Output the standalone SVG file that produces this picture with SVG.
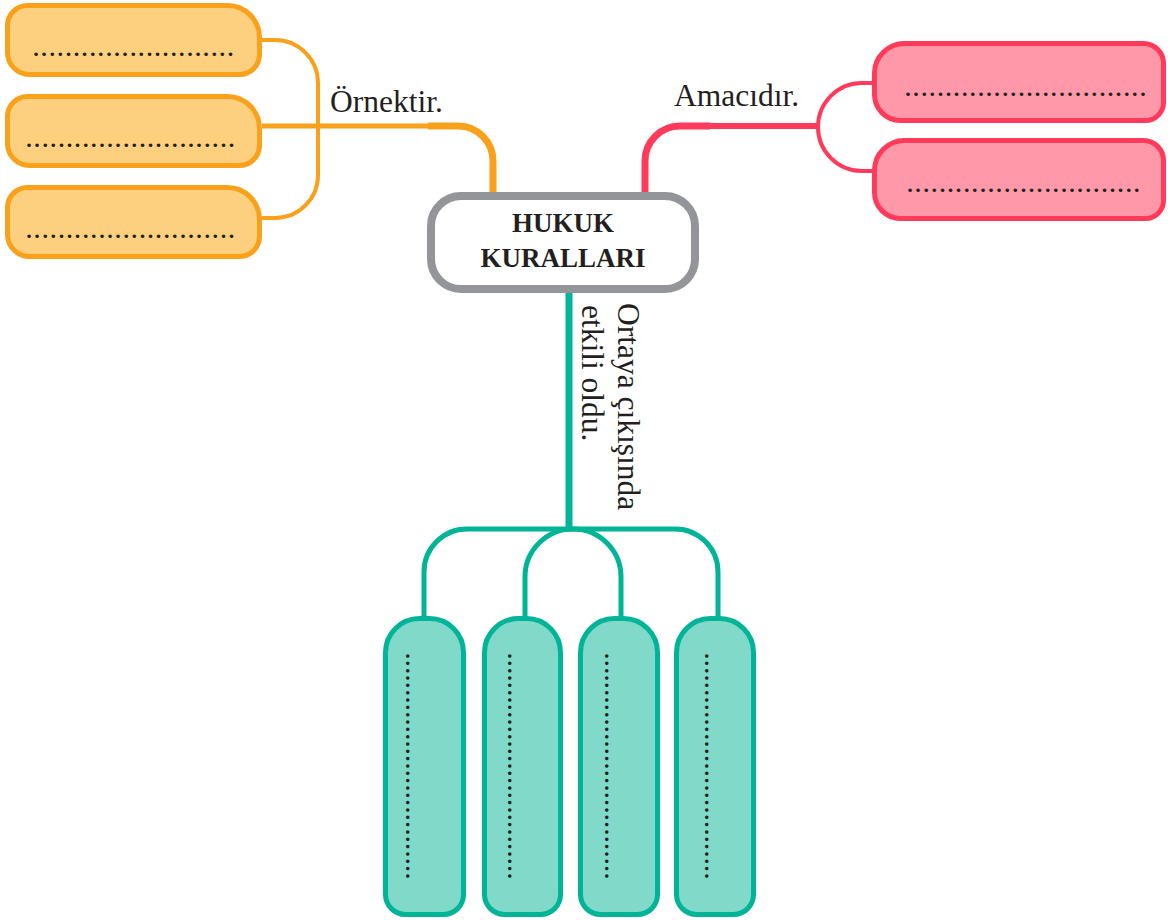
<svg xmlns="http://www.w3.org/2000/svg" width="1171" height="920" viewBox="0 0 1171 920">
<style>
.org{fill:#FDD07F;stroke:#F9A11B;stroke-width:5}
.red{fill:#FF98A8;stroke:#FF3A5A;stroke-width:5}
.tea{fill:#80D9C9;stroke:#00B497;stroke-width:5}
.cen{fill:#FFFFFF;stroke:#939598;stroke-width:8}
.c{fill:none;stroke-linecap:butt}
.co{stroke:#F9A11B}
.cr{stroke:#FF3A5A}
.ct{stroke:#00B497}
.lbl{font-family:"Liberation Serif","Times New Roman",serif;font-size:31.5px;fill:#231F20}
.ttl{font-family:"Liberation Serif","Times New Roman",serif;font-size:27px;font-weight:bold;fill:#231F20;text-anchor:middle}
.dot{font-family:"Liberation Serif","Times New Roman",serif;font-size:22px;font-weight:bold;fill:#231F20;letter-spacing:2.6px}
.vdot{font-family:"Liberation Serif","Times New Roman",serif;font-size:22px;font-weight:bold;fill:#231F20;letter-spacing:1.83px}
</style>
<rect width="1171" height="920" fill="#FFFFFF"/>
<g id="connectors">
<path class="c co" stroke-width="4" d="M262,40 H275 A43,43 0 0 1 318,83 V175 A43,43 0 0 1 275,218 H262"/>
<path class="c co" stroke-width="5" d="M262,126 H430"/>
<path class="c co" stroke-width="7" d="M428,126 H458 A35,35 0 0 1 493,161 V194"/>
<path class="c cr" stroke-width="7" d="M645,194 V161 A35,35 0 0 1 680,126 H710"/>
<path class="c cr" stroke-width="6" d="M708,126 H819"/>
<path class="c cr" stroke-width="4" d="M874,83 H862 A44,44 0 0 0 818,127 A44,44 0 0 0 862,171 H874"/>
<path class="c ct" stroke-width="7" d="M569,292 V531"/>
<path class="c ct" stroke-width="5" d="M424,618 V572 A43,43 0 0 1 467,529 H675 A43,43 0 0 1 718,572 V618"/>
<path class="c ct" stroke-width="5" d="M525,618 V577 A48,48 0 0 1 573,529 A48,48 0 0 1 621,577 V618"/>
</g>
<g id="center">
<rect class="cen" x="431" y="196" width="264" height="93" rx="30"/>
<text class="ttl" x="563" y="232">HUKUK</text>
<text class="ttl" x="563" y="267">KURALLARI</text>
</g>
<g id="labels">
<text class="lbl" x="330" y="112">Örnektir.</text>
<text class="lbl" x="674" y="106">Amacıdır.</text>
<text class="lbl" transform="translate(618,303) rotate(90)">Ortaya çıkışında</text>
<text class="lbl" transform="translate(582,305) rotate(90)">etkili oldu.</text>
</g>
<g id="orange1">
<path class="org" d="M27.5,5.5 H227.5 A32,32 0 0 1 259.5,37.5 V54.5 A20,20 0 0 1 239.5,74.5 H29.5 A22,22 0 0 1 7.5,52.5 V25.5 A20,20 0 0 1 27.5,5.5 Z"/>
<text class="dot" x="33.25" y="56">.........................</text>
</g>
<g id="orange2">
<path class="org" d="M27.5,96.5 H227.5 A32,32 0 0 1 259.5,128.5 V145.5 A20,20 0 0 1 239.5,165.5 H29.5 A22,22 0 0 1 7.5,143.5 V116.5 A20,20 0 0 1 27.5,96.5 Z"/>
<text class="dot" x="26.25" y="147">..........................</text>
</g>
<g id="orange3">
<path class="org" d="M27.5,187.5 H227.5 A32,32 0 0 1 259.5,219.5 V236.5 A20,20 0 0 1 239.5,256.5 H29.5 A22,22 0 0 1 7.5,234.5 V207.5 A20,20 0 0 1 27.5,187.5 Z"/>
<text class="dot" x="26.25" y="238">..........................</text>
</g>
<g id="red1">
<path class="red" d="M904.5,43.5 H1143.5 A20,20 0 0 1 1163.5,63.5 V102.5 A18,18 0 0 1 1145.5,120.5 H900.5 A26,26 0 0 1 874.5,94.5 V73.5 A30,30 0 0 1 904.5,43.5 Z"/>
<text class="dot" x="905.25" y="96">..............................</text>
</g>
<g id="red2">
<path class="red" d="M904.5,140.5 H1143.5 A20,20 0 0 1 1163.5,160.5 V200.5 A18,18 0 0 1 1145.5,218.5 H900.5 A26,26 0 0 1 874.5,192.5 V170.5 A30,30 0 0 1 904.5,140.5 Z"/>
<text class="dot" x="907.25" y="192">.............................</text>
</g>
<g id="teal1">
<path class="tea" d="M419.5,618.5 H429.5 A34,34 0 0 1 463.5,652.5 V894.5 A20,20 0 0 1 443.5,914.5 H405.5 A20,20 0 0 1 385.5,894.5 V652.5 A34,34 0 0 1 419.5,618.5 Z"/>
<text class="vdot" transform="translate(405.8,653.25) rotate(90)">...............................</text>
</g>
<g id="teal2">
<path class="tea" d="M518.5,618.5 H526.5 A34,34 0 0 1 560.5,652.5 V894.5 A20,20 0 0 1 540.5,914.5 H504.5 A20,20 0 0 1 484.5,894.5 V652.5 A34,34 0 0 1 518.5,618.5 Z"/>
<text class="vdot" transform="translate(507.8,653.25) rotate(90)">...............................</text>
</g>
<g id="teal3">
<path class="tea" d="M614.5,618.5 H623.5 A34,34 0 0 1 657.5,652.5 V894.5 A20,20 0 0 1 637.5,914.5 H600.5 A20,20 0 0 1 580.5,894.5 V652.5 A34,34 0 0 1 614.5,618.5 Z"/>
<text class="vdot" transform="translate(604.8,653.25) rotate(90)">...............................</text>
</g>
<g id="teal4">
<path class="tea" d="M710.5,618.5 H719.5 A34,34 0 0 1 753.5,652.5 V894.5 A20,20 0 0 1 733.5,914.5 H696.5 A20,20 0 0 1 676.5,894.5 V652.5 A34,34 0 0 1 710.5,618.5 Z"/>
<text class="vdot" transform="translate(704.8,653.25) rotate(90)">...............................</text>
</g>
</svg>
